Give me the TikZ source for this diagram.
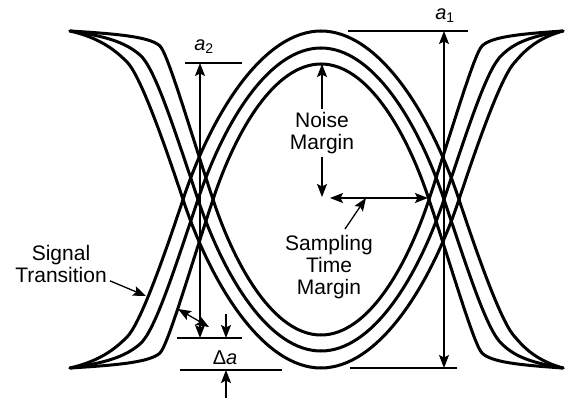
\documentclass[tikz,border=0pt]{standalone}
\usepackage{fontspec}
\setmainfont{Liberation Sans}
\usetikzlibrary{arrows.meta}
\tikzset{
  trace/.style={line width=3pt, line cap=round, line join=round},
  dim/.style={line width=1.3pt},
  arr/.style={-{Stealth[length=13pt,width=10pt,inset=2.5pt]}, line width=1.3pt},
  darr/.style={{Stealth[length=13pt,width=10pt,inset=2.5pt]}-{Stealth[length=13pt,width=10pt,inset=2.5pt]}, line width=1.3pt},
  lbl/.style={font=\fontsize{21}{22}\selectfont, align=center, inner sep=3pt},
  dimlbl/.style={font=\fontsize{20}{22}\selectfont, inner sep=0pt},
}
% three half traces, tip at distance #1 from the eye centre
\newcommand{\halftraces}[1]{%
  \draw[trace] (-#1,-168.5) .. controls ({-161-0.444*(#1-161)},-165.5) and ({-161-0.111*(#1-161)},-162.5) .. (-161,-153.5)
    .. controls (-153,-145.5) and (-131,-69.5) .. (-108,0)
    .. controls (-85,69.5) and (-46,135.5) .. (0,135.5);
  \draw[trace] (-#1,-168.5) .. controls ({-181-0.5*(#1-181)},-163.5) and ({-181-0.214*(#1-181)},-157.5) .. (-181,-144.5)
    .. controls (-166,-131.5) and (-147,-71) .. (-123,0)
    .. controls (-96,80) and (-51,151.5) .. (0,151.5);
  \draw[trace] (-#1,-168.5) .. controls ({-194-0.474*(#1-194)},-161.5) and ({-194-0.21*(#1-194)},-149.5) .. (-194,-137.5)
    .. controls (-182,-125.5) and (-161,-69.5) .. (-138,0)
    .. controls (-108,90) and (-56,168.5) .. (0,168.5);}

\begin{document}
\begin{tikzpicture}[x=1pt,y=-1pt]
  \useasboundingbox (0,0) rectangle (565,398);
  % eye traces
  \foreach \sx/\sy/\tip in {1/1/251,-1/1/242,1/-1/251,-1/-1/242}{
    \begin{scope}[shift={(321,199.5)}, xscale=\sx, yscale=\sy]
      \halftraces{\tip}
    \end{scope}}
  % a1
  \draw[dim] (348,31) -- (468,31);
  \draw[dim] (350,368) -- (457,368);
  \coordinate (a1top) at (444,31);
  \coordinate (a1bot) at (444,368);
  \draw[darr] (a1top) -- (a1bot);
  \node[dimlbl] (a1) at (445,16) {\textit{a}\textsubscript{1}};
  % a2
  \draw[dim] (185,63) -- (242,63);
  \draw[dim] (177,338) -- (242,338);
  \coordinate (a2top) at (200,63);
  \coordinate (a2bot) at (200,338);
  \draw[darr] (a2top) -- (a2bot);
  \node[dimlbl] (a2) at (204,47) {\textit{a}\textsubscript{2}};
  % delta a
  \draw[dim] (180,370) -- (282,370);
  \coordinate (datop) at (226,338);
  \coordinate (dabot) at (226,370);
  \coordinate (daup) at (226,314);
  \coordinate (dadown) at (226,398);
  \draw[arr] (daup) -- (datop);
  \draw[arr] (dadown) -- (dabot);
  \node[dimlbl] (da) at (225,358) {Δ\textit{a}};
  \coordinate (gap1) at (178,309);
  \coordinate (gap2) at (209,327);
  \draw[darr] (gap1) -- (gap2);
  % noise margin
  \node[lbl, anchor=north] (nm) at (322,109) {Noise\\Margin};
  \coordinate (ntop) at (322,64);
  \coordinate (nbot) at (322,197);
  \draw[arr] (nm.north) -- (ntop);
  \draw[arr] (nm.south) -- (nbot);
  % sampling time margin
  \coordinate (sleft) at (330,198);
  \coordinate (sright) at (428,198);
  \draw[darr] (sleft) -- (sright);
  \coordinate (spoint) at (366,198);
  \node[lbl, anchor=north] (stm) at (329,232) {Sampling\\Time\\Margin};
  \draw[arr] ([xshift=16pt,yshift=3pt]stm.north) -- (spoint);
  % signal transition
  \node[lbl, anchor=north] (sig) at (61,242) {Signal\\Transition};
  \coordinate (sigpt) at (146,296);
  \draw[arr] ([yshift=5pt]sig.south east) -- (sigpt);
\end{tikzpicture}
\end{document}
